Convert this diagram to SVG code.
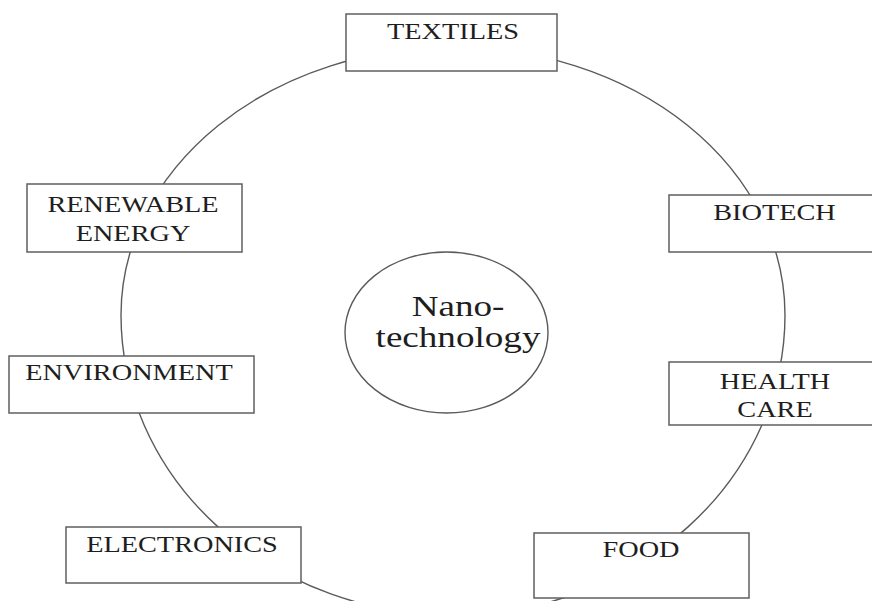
<svg xmlns="http://www.w3.org/2000/svg" width="872" height="601" viewBox="0 0 872 601">
  <style>
    .box { fill: #ffffff; stroke: #5f5f5f; stroke-width: 1.5; }
    .ring { fill: none; stroke: #5a5a5a; stroke-width: 1.4; }
    .lbl { font-family: "Liberation Serif", "Times New Roman", serif; font-size: 23px; fill: #1e1e1e; text-anchor: middle; }
    .core { font-family: "Liberation Serif", "Times New Roman", serif; font-size: 29px; fill: #1e1e1e; text-anchor: middle; }
  </style>
  <rect width="872" height="601" fill="#ffffff"/>
  <g id="connectors">
    <path class="ring" d="M 121 315 A 332 268 0 0 1 785 315 A 332 300 0 0 1 121 315 Z"/>
  </g>
  <g id="nanotechnology">
    <ellipse class="ring" cx="446.5" cy="332.5" rx="101.5" ry="80.5"/>
    <text class="core" transform="translate(458,316) scale(1.28,1)">Nano-</text>
    <text class="core" transform="translate(458,347) scale(1.28,1)">technology</text>
  </g>
  <g id="textiles">
    <rect class="box" x="346" y="14" width="211" height="57"/>
    <text class="lbl" transform="translate(453,39) scale(1.23,1)">TEXTILES</text>
  </g>
  <g id="renewable-energy">
    <rect class="box" x="27" y="184" width="215" height="68"/>
    <text class="lbl" transform="translate(133,212) scale(1.23,1)">RENEWABLE</text>
    <text class="lbl" transform="translate(133,241) scale(1.23,1)">ENERGY</text>
  </g>
  <g id="biotech">
    <rect class="box" x="669" y="195" width="215" height="57"/>
    <text class="lbl" transform="translate(774.5,220) scale(1.23,1)">BIOTECH</text>
  </g>
  <g id="health-care">
    <rect class="box" x="669" y="362" width="215" height="63"/>
    <text class="lbl" transform="translate(775,389) scale(1.23,1)">HEALTH</text>
    <text class="lbl" transform="translate(775,417) scale(1.23,1)">CARE</text>
  </g>
  <g id="environment">
    <rect class="box" x="9" y="356" width="245" height="57"/>
    <text class="lbl" transform="translate(129,380) scale(1.23,1)">ENVIRONMENT</text>
  </g>
  <g id="electronics">
    <rect class="box" x="66" y="527" width="235" height="56"/>
    <text class="lbl" transform="translate(182,552) scale(1.23,1)">ELECTRONICS</text>
  </g>
  <g id="food">
    <rect class="box" x="534" y="533" width="215" height="65"/>
    <text class="lbl" transform="translate(641,557) scale(1.23,1)">FOOD</text>
  </g>
</svg>
